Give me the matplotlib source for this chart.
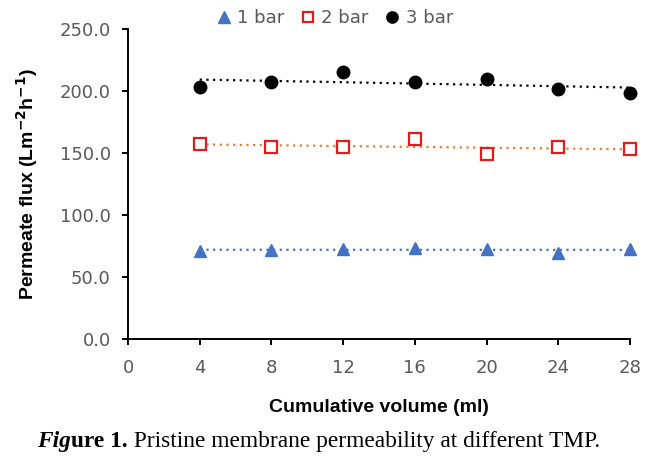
import numpy as np
import matplotlib
matplotlib.use("Agg")
import matplotlib.pyplot as plt

# datos
volumen = [4, 8, 12, 16, 20, 24, 28]
flux_1bar = [71, 72, 72.5, 73.5, 72.5, 69.5, 72.5]
flux_2bar = [157, 155, 154.5, 161.5, 149, 154.5, 153]
flux_3bar = [203, 207, 215, 207, 210, 202, 198]
x_ticks = [0, 4, 8, 12, 16, 20, 24, 28]
y_ticks = [0, 50, 100, 150, 200, 250]

fig = plt.figure(figsize=(6.61, 4.62), dpi=100)
ax = fig.add_axes([128/661, 1-339/462, (630-128)/661, (339-29)/462])

gris = "#595959"

# lineas de tendencia (ajuste lineal, como en Excel)
def tendencia(y, color):
    a, b = np.polyfit(volumen, y, 1)
    xs = np.array([volumen[0], volumen[-1]])
    ax.plot(xs, a*xs + b, color=color, lw=1.6, ls=(0, (1, 2)), zorder=2)

tendencia(flux_1bar, "#4472C4")
tendencia(flux_2bar, "#ED7D31")
tendencia(flux_3bar, "black")

ax.plot(volumen, flux_1bar, ls="none", marker="^", ms=9, color="#4472C4",
        label="1 bar", zorder=3, clip_on=False)
ax.plot(volumen, flux_2bar, ls="none", marker="s", ms=8, mfc="white",
        mec="#E31B1B", mew=1.6, label="2 bar", zorder=3, clip_on=False)
ax.plot(volumen, flux_3bar, ls="none", marker="o", ms=9, color="black",
        label="3 bar", zorder=3, clip_on=False)

ax.set_xlim(0, 28)
ax.set_ylim(0, 250)
ax.set_xticks(x_ticks)
ax.set_yticks(y_ticks)
ax.set_yticklabels([f"{v:.1f}" for v in y_ticks])
for s in ["top", "right"]:
    ax.spines[s].set_visible(False)
for s in ["left", "bottom"]:
    ax.spines[s].set_linewidth(1.4)
ax.tick_params(direction="out", length=4.5, width=1.4, labelsize=13,
               labelcolor=gris)
ax.tick_params(axis="y", pad=8)
ax.tick_params(axis="x", pad=10)

ax.set_xlabel("Cumulative volume (ml)", fontsize=14, fontweight="bold",
              family="Liberation Sans", labelpad=16)
ax.set_ylabel("Permeate flux (Lm$^{\\mathbf{-2}}$h$^{\\mathbf{-1}}$)",
              fontsize=14, fontweight="bold", family="Liberation Sans",
              labelpad=14)

leg = fig.legend(loc="center", bbox_to_anchor=(0.505, 0.961), ncol=3,
                 frameon=False, fontsize=13, handletextpad=0.25,
                 columnspacing=0.8, handlelength=1.0, markerscale=0.9)
for t in leg.get_texts():
    t.set_color(gris)

# pie de figura
render = fig.canvas.get_renderer()
x0 = 37 / 661
y0 = 1 - 447 / 462
partes = [("Fig", "bold", "italic"), ("ure 1.", "bold", "normal"),
          (" Pristine membrane permeability at different TMP.", "normal", "normal")]
for texto, peso, estilo in partes:
    t = fig.text(x0, y0, texto, fontsize=16.8, family="Liberation Serif",
                 fontweight=peso, fontstyle=estilo, va="baseline")
    ancho = t.get_window_extent(render).width
    x0 += ancho / fig.bbox.width

fig.savefig("out.png", dpi=100)
